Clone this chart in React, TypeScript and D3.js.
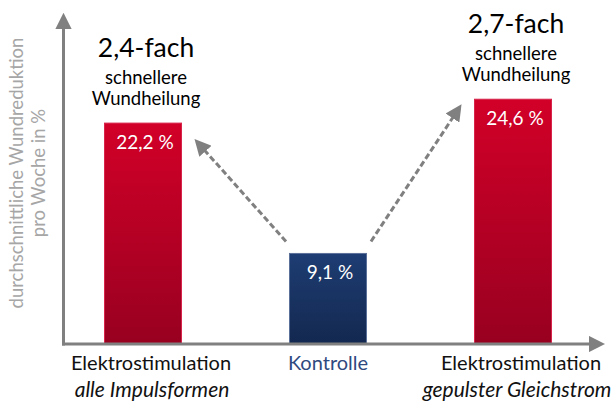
import React from "react";
import * as d3 from "d3";

const categories = ["alle", "kontrolle", "gepulst"];
const values = [22.2, 9.1, 24.6];
const valueLabels = ["22,2 %", "9,1 %", "24,6 %"];
const mainLabels = ["Elektrostimulation", "Kontrolle", "Elektrostimulation"];
const subLabels = ["alle Impulsformen", "", "gepulster Gleichstrom"];
const factorLabels = ["2,4-fach", "", "2,7-fach"];
const yTitle = ["durchschnittliche Wundreduktion", "pro Woche in %"];

const W = 614;
const H = 403;
const FONT = "Lato, 'Open Sans', sans-serif";

export default function App() {
  const x = d3.scalePoint<string>().domain(categories).range([143, 513]);
  const y = d3.scaleLinear().domain([0, 30]).range([344, 45.5]);
  const barW = 77;
  const axisY = y(0);
  const axisX = 63.5;
  const gray = "#808080";

  // arrows from the control bar up to the two stimulation bars
  const arrowFrom = (i: number) => [x(categories[1])! + (i === 0 ? -42 : 43), y(values[1]) - 12];
  const arrowTo = (i: number) =>
    i === 0 ? [x(categories[0])! + 57, y(values[0]) + 22] : [x(categories[2])! - 56, y(values[2]) + 12];

  return (
    <svg width={W} height={H} style={{ position: "absolute", left: 0, top: 0 }}>
      <defs>
        <linearGradient id="red" x1="0" y1="0" x2="0" y2="1">
          <stop offset="0%" stopColor="#d20028" />
          <stop offset="100%" stopColor="#980020" />
        </linearGradient>
        <linearGradient id="blue" x1="0" y1="0" x2="0" y2="1">
          <stop offset="0%" stopColor="#1e3d73" />
          <stop offset="100%" stopColor="#13284f" />
        </linearGradient>
        <marker id="ah" viewBox="0 0 10 10" refX="5" refY="5" markerWidth="5.5" markerHeight="5.5" orient="auto">
          <path d="M0,0 L10,5 L0,10 Z" fill={gray} />
        </marker>
        <marker id="axh" viewBox="0 0 10 10" refX="2" refY="5" markerWidth="5.5" markerHeight="5.5" orient="auto">
          <path d="M0,0 L10,5 L0,10 Z" fill={gray} />
        </marker>
      </defs>

      {/* y axis title */}
      <g transform={`translate(23,173) rotate(-90)`} fill="#a6a6a6" fontFamily={FONT} fontSize={18.5} textAnchor="middle">
        <text y={0}>{yTitle[0]}</text>
        <text y={22}>{yTitle[1]}</text>
      </g>

      {/* bars */}
      {categories.map((c, i) => (
        <rect
          key={c}
          x={x(c)! - barW / 2}
          y={y(values[i])}
          width={barW}
          height={axisY - y(values[i])}
          fill={i === 1 ? "url(#blue)" : "url(#red)"}
          stroke={i === 1 ? "#5b7099" : "#d8234a"}
          strokeWidth={1}
        />
      ))}

      {/* axes */}
      <line x1={axisX} y1={axisY + 1.5} x2={axisX} y2={26} stroke={gray} strokeWidth={3} markerEnd="url(#axh)" />
      <line x1={axisX - 1.5} y1={axisY} x2={592} y2={axisY} stroke={gray} strokeWidth={3} markerEnd="url(#axh)" />

      {/* value labels */}
      {categories.map((c, i) => (
        <text
          key={c}
          x={x(c)! + 2}
          y={y(values[i]) + 26}
          fill="#ffffff"
          fontFamily={FONT}
          fontSize={19}
          textAnchor="middle"
        >
          {valueLabels[i]}
        </text>
      ))}

      {/* dashed arrows */}
      {[0, 1].map((i) => {
        const [x1, y1] = arrowFrom(i);
        const [x2, y2] = arrowTo(i);
        return (
          <line
            key={i}
            x1={x1}
            y1={y1}
            x2={x2}
            y2={y2}
            stroke={gray}
            strokeWidth={3}
            strokeDasharray="6,3"
            markerEnd="url(#ah)"
          />
        );
      })}

      {/* factor annotations */}
      {categories.map((c, i) =>
        factorLabels[i] ? (
          <g key={c} transform={`translate(${x(c)! + 3},${y(values[i]) - 66})`} fontFamily={FONT} textAnchor="middle" fill="#000">
            <text y={0} fontSize={26.5}>{factorLabels[i]}</text>
            <text y={27} fontSize={18.5}>schnellere</text>
            <text y={48} fontSize={18.5}>Wundheilung</text>
          </g>
        ) : null
      )}

      {/* category labels */}
      {categories.map((c, i) => (
        <g key={c} fontFamily={FONT} textAnchor="middle">
          <text x={x(c)! + (i === 1 ? 0 : 8)} y={370} fontSize={20} fill={i === 1 ? "#2f4a7f" : "#111"}>
            {mainLabels[i]}
          </text>
          <text x={x(c)! + (i === 0 ? 9 : 4)} y={397} fontSize={21} fontStyle="italic" fill="#111">
            {subLabels[i]}
          </text>
        </g>
      ))}
    </svg>
  );
}
